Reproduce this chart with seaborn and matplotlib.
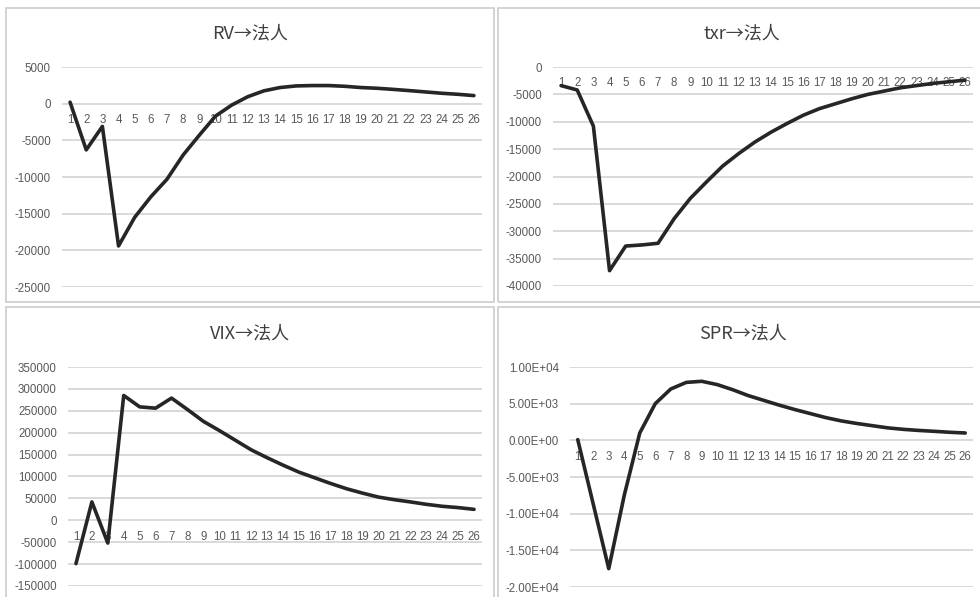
import numpy as np
import pandas as pd
import matplotlib
matplotlib.use("Agg")
import matplotlib.pyplot as plt
from matplotlib.patches import Rectangle
from matplotlib.ticker import FuncFormatter, FixedLocator
import seaborn as sns

periods = list(range(1, 27))

rv_values = [200, -6300, -3100, -19400, -15500, -12700, -10300, -7000, -4300, -1700,
             -200, 950, 1750, 2200, 2420, 2470, 2470, 2370, 2200, 2100,
             1950, 1780, 1600, 1420, 1280, 1100]
txr_values = [-3400, -4200, -10800, -37200, -32700, -32500, -32200, -27700, -24000, -21000,
              -18100, -15800, -13700, -11900, -10300, -8800, -7600, -6700, -5800, -5000,
              -4400, -3800, -3400, -3000, -2700, -2400]
vix_values = [-99000, 42000, -52000, 285000, 259000, 256000, 279000, 253000, 226000, 205000,
              183000, 161000, 143000, 126000, 110000, 97000, 84000, 72000, 62000, 53000,
              47000, 42000, 36500, 32000, 29000, 25000]
spr_values = [100, -8700, -17500, -7500, 1000, 5000, 7000, 7900, 8050, 7600,
              6900, 6100, 5450, 4800, 4200, 3650, 3100, 2650, 2300, 2000,
              1700, 1500, 1350, 1230, 1100, 1000]

titles = ["RV→法人", "txr→法人", "VIX→法人", "SPR→法人"]
series = [rv_values, txr_values, vix_values, spr_values]
y_ticks = [
    list(range(-25000, 5001, 5000)),
    list(range(-40000, 1, 5000)),
    list(range(-150000, 350001, 50000)),
    [-20000, -15000, -10000, -5000, 0, 5000, 10000],
]
sci_format = [False, False, False, True]

sns.set_theme(style="white")
plt.rcParams["font.family"] = ["Liberation Sans", "DejaVu Sans", "Noto Sans CJK SC"]

W, H = 980, 597
fig = plt.figure(figsize=(W / 100, H / 100), dpi=100)
fig.patch.set_facecolor("white")

# panel frames (pixels: left, top, right, bottom)
frames = [(6, 8, 494, 302), (498, 8, 990, 302), (6, 307, 494, 610), (498, 307, 990, 610)]
for l, t, r, b in frames:
    fig.patches.append(Rectangle((l / W, 1 - b / H), (r - l) / W, (b - t) / H,
                                 transform=fig.transFigure, fill=False,
                                 edgecolor="#d0d0d0", linewidth=1.3))

# axes boxes (pixels: x0, x1, ytop, ybottom)
boxes = [(62, 482, 67, 287), (553, 973, 67, 286), (68, 482, 367, 586), (570, 973, 367, 587)]
title_pos = [(250, 33), (742, 33), (250, 333), (743, 333)]

for i in range(4):
    x0, x1, yt, yb = boxes[i]
    ax = fig.add_axes([x0 / W, 1 - yb / H, (x1 - x0) / W, (yb - yt) / H])
    df = pd.DataFrame({"period": periods, "value": series[i]})
    sns.lineplot(data=df, x="period", y="value", ax=ax, color="#262626",
                 linewidth=2.6, zorder=3)
    ax.set_facecolor("none")
    ax.set_axisbelow(True)
    ax.set_xlim(0.5, 26.5)
    ax.set_ylim(y_ticks[i][0], y_ticks[i][-1])
    ax.yaxis.set_major_locator(FixedLocator(y_ticks[i]))
    if sci_format[i]:
        ax.yaxis.set_major_formatter(FuncFormatter(lambda v, p: f"{v:.2E}"))
    else:
        ax.yaxis.set_major_formatter(FuncFormatter(lambda v, p: f"{int(round(v))}"))
    ax.xaxis.set_major_locator(FixedLocator(periods))
    ax.set_xticklabels([str(p) for p in periods])
    ax.grid(axis="y", color="#d0d0d0", linewidth=1.1)
    ax.grid(axis="x", visible=False)
    for s in ["top", "right", "left"]:
        ax.spines[s].set_visible(False)
    ax.spines["bottom"].set_position(("data", 0))
    ax.spines["bottom"].set_visible(False)
    ax.tick_params(axis="x", length=0, pad=7.5, labelsize=8.3, labelcolor="#595959")
    ax.tick_params(axis="y", length=0, pad=8, labelsize=8.3, labelcolor="#595959")
    ax.set_xlabel("")
    ax.set_ylabel("")
    tx, ty = title_pos[i]
    fig.text(tx / W, 1 - ty / H, titles[i], ha="center", va="center",
             fontsize=13, color="#404040", family=["Noto Sans CJK SC", "DejaVu Sans"])

fig.savefig("out.png", dpi=100)
